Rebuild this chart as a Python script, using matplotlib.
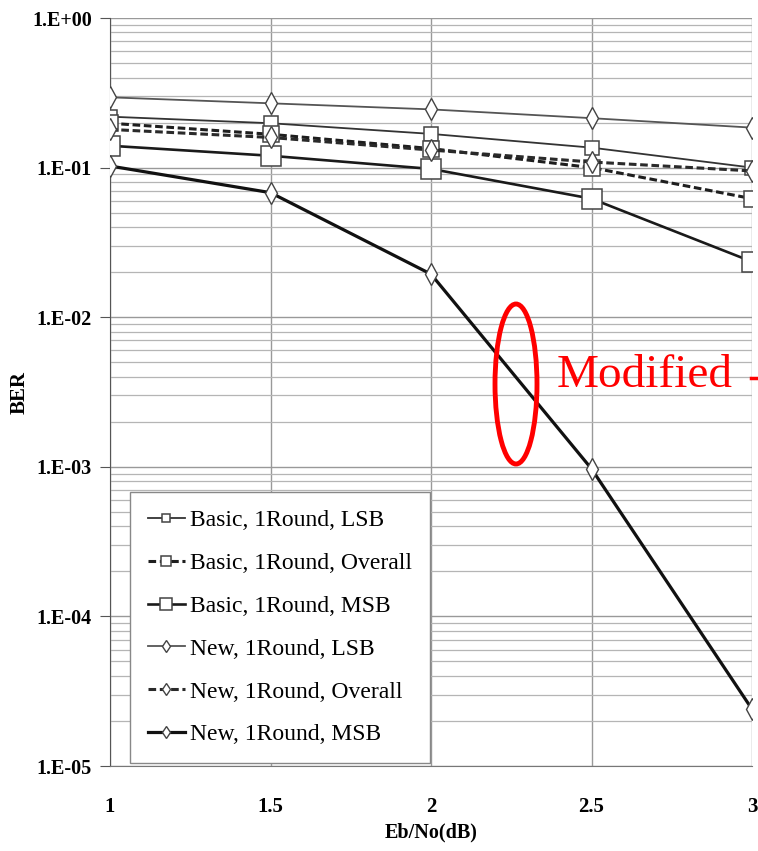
import matplotlib
matplotlib.use("Agg")
import matplotlib.pyplot as plt
from matplotlib.patches import Ellipse
from matplotlib.lines import Line2D
from matplotlib.ticker import FixedLocator, FuncFormatter, LogLocator, NullFormatter
import numpy as np

ebno = [1, 1.5, 2, 2.5, 3]
basic_lsb = [0.219, 0.198, 0.168, 0.136, 0.100]
basic_overall = [0.198, 0.167, 0.134, 0.100, 0.062]
basic_msb = [0.140, 0.120, 0.098, 0.062, 0.0235]
new_lsb = [0.295, 0.269, 0.245, 0.214, 0.185]
new_overall = [0.180, 0.159, 0.131, 0.109, 0.095]
new_msb = [0.1025, 0.068, 0.0194, 0.00097, 0.000024]

labels = ["Basic, 1Round, LSB", "Basic, 1Round, Overall", "Basic, 1Round, MSB",
          "New, 1Round, LSB", "New, 1Round, Overall", "New, 1Round, MSB"]
x_ticks = [1, 1.5, 2, 2.5, 3]
x_ticklabels = ["1", "1.5", "2", "2.5", "3"]
y_ticks = [1e0, 1e-1, 1e-2, 1e-3, 1e-4, 1e-5]
y_ticklabels = ["1.E+00", "1.E-01", "1.E-02", "1.E-03", "1.E-04", "1.E-05"]

serif = ["Liberation Serif", "DejaVu Serif"]
plt.rcParams['font.family'] = serif

fig = plt.figure(figsize=(7.58, 8.51), dpi=100)
ax = fig.add_axes([110/758, 1-766/851, 642/758, 748/851])

series = [basic_lsb, basic_overall, basic_msb, new_lsb, new_overall, new_msb]
styles = [
    dict(color="#333333", lw=1.3, ls="-", marker="s", ms=10, mew=1.1),
    dict(color="#1e1e1e", lw=2.2, ls=(0, (2.5, 1.2)), marker="s", ms=12, mew=1.1),
    dict(color="#1a1a1a", lw=1.9, ls="-", marker="s", ms=14, mew=1.1),
    dict(color="#555555", lw=1.3, ls="-", marker="d", ms=11, mew=1.0),
    dict(color="#2a2a2a", lw=2.2, ls=(0, (2.5, 1.2)), marker="d", ms=11, mew=1.0),
    dict(color="#111111", lw=2.3, ls="-", marker="d", ms=11, mew=1.0),
]
for y, st, lab in zip(series, styles, labels):
    ax.plot(ebno, y, label=lab, mfc="white", mec="#444444", zorder=3, **st)

ax.set_yscale("log")
ax.set_xlim(1, 3)
ax.set_ylim(1e-5, 1)
ax.xaxis.set_major_locator(FixedLocator(x_ticks))
ax.set_xticklabels(x_ticklabels)
ax.yaxis.set_major_locator(FixedLocator(y_ticks))
ax.yaxis.set_major_formatter(FuncFormatter(lambda v, p: y_ticklabels[y_ticks.index(min(y_ticks, key=lambda t: abs(np.log10(t) - np.log10(v))))]))
ax.yaxis.set_minor_locator(LogLocator(base=10, subs=np.arange(2, 10)))
ax.yaxis.set_minor_formatter(NullFormatter())

ax.grid(True, which="major", axis="both", color="#999999", lw=1.0)
ax.grid(True, which="minor", axis="y", color="#b5b5b5", lw=0.9)
ax.set_axisbelow(True)

for s in ["top", "right"]:
    ax.spines[s].set_visible(False)
ax.spines["left"].set_color("#555555")
ax.spines["bottom"].set_color("#777777")

ax.tick_params(axis="y", which="major", direction="out", length=7, labelsize=14.5, color="#555555", pad=6)
ax.tick_params(axis="y", which="minor", length=0)
ax.tick_params(axis="x", which="major", length=0, labelsize=15, pad=22)
for t in ax.get_yticklabels() + ax.get_xticklabels():
    t.set_fontweight("bold")

ax.set_ylabel("BER", fontsize=15, fontweight="bold")
ax.yaxis.set_label_coords((30 - 110) / 642, 0.5)
ax.set_xlabel("Eb/No(dB)", fontsize=14.5, fontweight="bold", labelpad=4)

leg = ax.legend(loc="lower left", bbox_to_anchor=(0.031, 0.004), fontsize=17,
                handlelength=1.6, handletextpad=0.2, labelspacing=0.9,
                borderpad=0.75, borderaxespad=0, fancybox=False, framealpha=1,
                edgecolor="#888888", markerscale=0.6)
leg.get_frame().set_linewidth(1.0)

fig.patches.append(Ellipse((516/758, 1-384/851), 42/758, 160/851, transform=fig.transFigure,
                           fill=False, edgecolor="red", lw=3.5, zorder=10))
fig.text(557/758, 1-376/851, "Modified", color="red", fontsize=34, va="center", ha="left",
         family=serif)
fig.lines.append(Line2D([751/758, 1.0], [1-378/851, 1-378/851], transform=fig.transFigure,
                        color="red", lw=2.5))

fig.savefig("out.png", dpi=100)
